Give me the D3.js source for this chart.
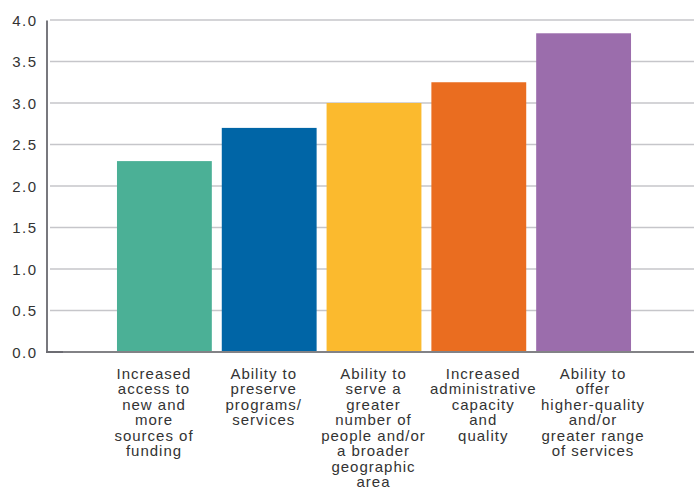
<!DOCTYPE html>
<html>
<head>
<meta charset="utf-8">
<script src="https://cdn.jsdelivr.net/npm/d3@7"></script>
<style>
  html, body { margin: 0; padding: 0; background: #fff; }
  svg { display: block; }
  text { font-family: "Liberation Sans", Arial, Helvetica, sans-serif; fill: #333; }
</style>
</head>
<body>
<svg id="chart" width="694" height="489"></svg>
<script>
// Benefits of collaboration, average rating
const categories = [
  "Increased access to new and more sources of funding",
  "Ability to preserve programs/services",
  "Ability to serve a greater number of people and/or a broader geographic area",
  "Increased administrative capacity and quality",
  "Ability to offer higher-quality and/or greater range of services"
];
const categoryLines = [
  ["Increased", "access to", "new and", "more", "sources of", "funding"],
  ["Ability to", "preserve", "programs/", "services"],
  ["Ability to", "serve a", "greater", "number of", "people and/or", "a broader", "geographic", "area"],
  ["Increased", "administrative", "capacity", "and", "quality"],
  ["Ability to", "offer", "higher-quality", "and/or", "greater range", "of services"]
];
const values = [2.3, 2.7, 3.0, 3.25, 3.84];
const barColors = ["#4bb096", "#0065a6", "#fbba2e", "#ea6d20", "#9b6dac"];
const yTicks = [0, 0.5, 1.0, 1.5, 2.0, 2.5, 3.0, 3.5, 4.0];

const svg = d3.select("#chart");

const y = d3.scaleLinear().domain([0, 4]).range([352, 20]);
const x = d3.scaleBand()
  .domain(categories)
  .range([112, 636])
  .paddingInner(0.095)
  .paddingOuter(0.0475);
const xLabel = d3.scalePoint().domain(categories).range([154, 593]);

// horizontal gridlines
svg.append("g")
  .selectAll("line")
  .data(yTicks.filter(d => d > 0))
  .join("line")
  .attr("x1", 50).attr("x2", 694)
  .attr("y1", d => y(d)).attr("y2", d => y(d))
  .attr("stroke", "#c6c6ca")
  .attr("stroke-width", 1.6);

// bars
svg.append("g")
  .selectAll("rect")
  .data(values)
  .join("rect")
  .attr("x", (d, i) => x(categories[i]))
  .attr("width", x.bandwidth())
  .attr("y", d => y(d))
  .attr("height", d => y(0) - y(d))
  .attr("fill", (d, i) => barColors[i]);

// value axis
const yAxis = svg.append("g")
  .attr("transform", "translate(46.5,0)")
  .call(d3.axisLeft(y).tickValues(yTicks).tickFormat(d3.format(".1f")).tickSize(0).tickPadding(9));
yAxis.select(".domain").attr("stroke", "#78787e").attr("stroke-width", 2);
yAxis.selectAll("text")
  .style("font-size", "15px")
  .style("letter-spacing", "1.5px")
  .style("font-family", "'Liberation Sans', Arial, sans-serif")
  .attr("fill", "#333")
  .attr("dy", "0.36em");

// baseline
svg.append("line")
  .attr("x1", 46).attr("x2", 694)
  .attr("y1", y(0)).attr("y2", y(0))
  .attr("stroke", "#828286").attr("stroke-width", 2);
svg.append("line")
  .attr("x1", 46).attr("x2", 63)
  .attr("y1", y(0)).attr("y2", y(0))
  .attr("stroke", "#6c6c72").attr("stroke-width", 2);

// category labels
const labels = svg.append("g")
  .selectAll("text")
  .data(categories)
  .join("text")
  .attr("x", d => xLabel(d))
  .attr("y", 378.5)
  .attr("text-anchor", "middle")
  .style("font-size", "15px")
  .style("letter-spacing", "1px");
labels.selectAll("tspan")
  .data((d, i) => categoryLines[i])
  .join("tspan")
  .attr("x", function () { return this.parentNode.getAttribute("x"); })
  .attr("dy", (d, i) => i === 0 ? 0 : 15.5)
  .text(d => d);
</script>
</body>
</html>
